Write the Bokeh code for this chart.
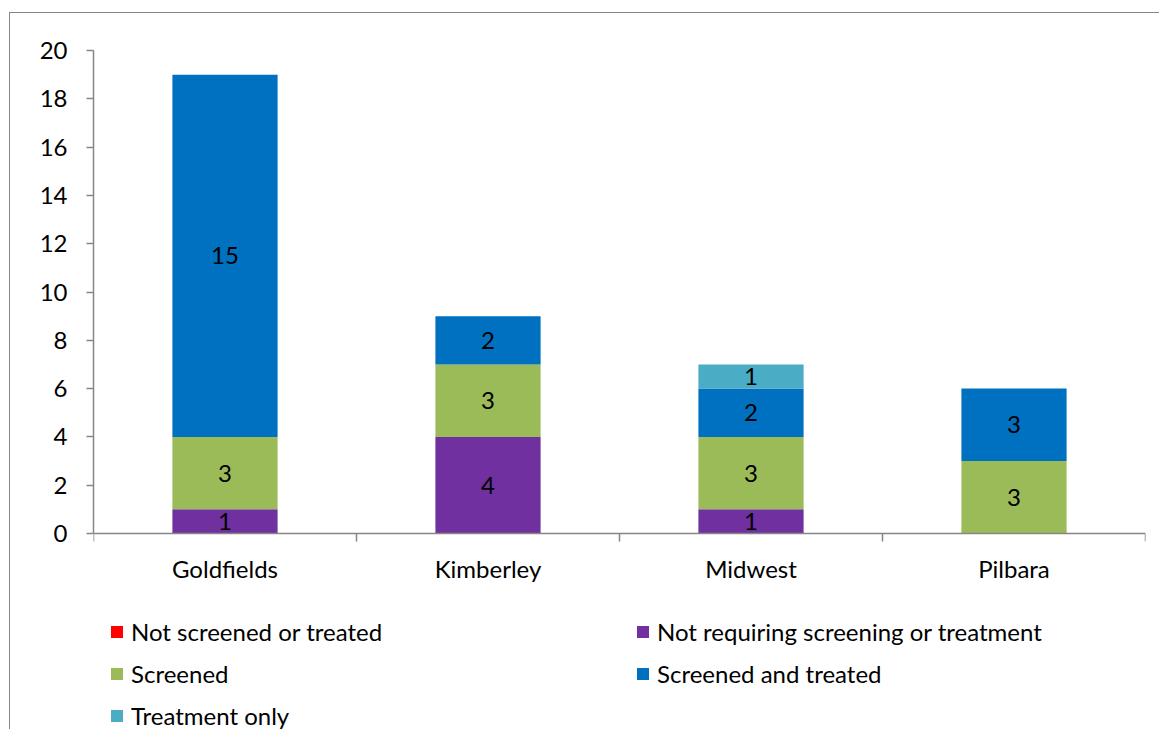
import numpy as np
from bokeh.plotting import figure
from bokeh.models import (ColumnDataSource, Range1d, FixedTicker, Legend, LegendItem)
from bokeh.core.properties import value
from bokeh.embed import file_html
from bokeh.resources import INLINE

# ---- data ----
regions = ["Goldfields", "Kimberley", "Midwest", "Pilbara"]
series = ["Not screened or treated", "Not requiring screening or treatment",
          "Screened", "Screened and treated", "Treatment only"]
not_screened = [0, 0, 0, 0]
not_requiring = [1, 4, 1, 0]
screened = [3, 3, 3, 3]
screened_treated = [15, 2, 2, 3]
treatment_only = [0, 0, 1, 0]
colors = ["#FF0000", "#7030A0", "#9BBB59", "#0070C0", "#4BACC6"]
y_ticks = list(range(0, 21, 2))

FONT = "Lato"
FS = "24px"

values = [not_screened, not_requiring, screened, screened_treated, treatment_only]
keys = ["s0", "s1", "s2", "s3", "s4"]
xpos = [i + 0.5 for i in range(len(regions))]

data = {"x": xpos}
for k, v in zip(keys, values):
    data[k] = v
source = ColumnDataSource(data)

# frame extends below zero to host the legend area
p = figure(width=1150, height=717, output_backend="svg", toolbar_location=None,
           x_range=Range1d(0, len(regions)), y_range=Range1d(-8.157, 20),
           min_border_left=83, min_border_right=15, min_border_top=37,
           min_border_bottom=0)
p.styles = {"border-left": "1.5px solid #868686", "border-top": "1.5px solid #868686",
            "margin-top": "12px", "margin-left": "9px"}
p.outline_line_color = None
p.xgrid.visible = False
p.ygrid.visible = False

renderers = p.vbar_stack(keys, x="x", width=0.4, color=colors, line_color=None,
                         source=source)

# data labels
arr = np.array(values, dtype=float)
cum = np.cumsum(arr, axis=0)
lx, ly, lt = [], [], []
for si in range(arr.shape[0]):
    for ci in range(arr.shape[1]):
        v = arr[si, ci]
        if v > 0:
            lx.append(xpos[ci])
            ly.append(cum[si, ci] - v / 2)
            lt.append(str(int(v)))
p.text(x=lx, y=ly, text=lt, text_align="center", text_baseline="middle",
       text_font=value(FONT), text_font_size=FS, text_color="#000000")

# axes
xa = p.xaxis[0]
xa.fixed_location = 0
xa.ticker = FixedTicker(ticks=xpos, minor_ticks=list(range(len(regions) + 1)))
xa.major_label_overrides = {x: r for x, r in zip(xpos, regions)}
xa.major_tick_out = 0
xa.major_tick_in = 0
xa.minor_tick_out = 8
xa.minor_tick_in = 0
xa.minor_tick_line_color = "#868686"
xa.minor_tick_line_width = 1.5
xa.axis_line_color = "#868686"
xa.axis_line_width = 1.5
xa.major_label_text_font = FONT
xa.major_label_text_font_size = FS
xa.major_label_text_color = "#000000"
xa.major_label_standoff = 12

ya = p.yaxis[0]
ya.bounds = (0, 20)
ya.ticker = FixedTicker(ticks=y_ticks, minor_ticks=[])
ya.major_tick_out = 7
ya.major_tick_in = 0
ya.major_tick_line_color = "#868686"
ya.major_tick_line_width = 1.5
ya.axis_line_color = "#868686"
ya.axis_line_width = 1.5
ya.major_label_text_font = FONT
ya.major_label_text_font_size = FS
ya.major_label_text_color = "#000000"
ya.major_label_standoff = 19

# legends (two columns)
items = [LegendItem(label=s, renderers=[r]) for s, r in zip(series, renderers)]


def make_legend(its, loc):
    lg = Legend(items=its, location=loc, orientation="vertical")
    lg.glyph_width = 15
    lg.glyph_height = 15
    lg.label_height = 20
    lg.spacing = 13
    lg.label_standoff = 7
    lg.padding = 0
    lg.margin = 0
    lg.border_line_color = None
    lg.background_fill_alpha = 0
    lg.label_text_font = FONT
    lg.label_text_font_size = FS
    lg.label_text_color = "#000000"
    return lg


leg1 = make_legend([items[0], items[2], items[4]], (16, 0))
leg2 = make_legend([items[1], items[3]], (542, 42))
p.add_layout(leg1, "center")
p.add_layout(leg2, "center")

open("out.html", "w").write(file_html(p, INLINE))
